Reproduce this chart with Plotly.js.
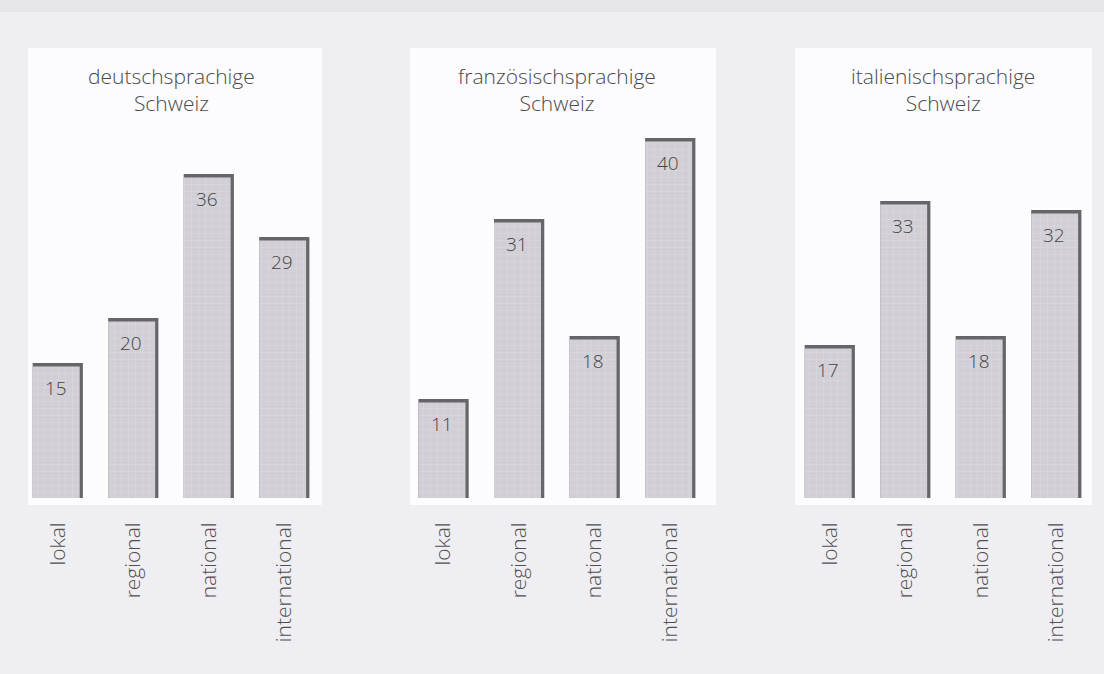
<!DOCTYPE html>
<html>
<head>
<meta charset="utf-8">
<script src="https://cdn.plot.ly/plotly-3.0.1.min.js"></script>
<style>html,body{margin:0;padding:0;background:#efeef2;}#chart{width:1104px;height:674px;}</style>
</head>
<body>
<div id="chart"></div>
<script>
// Data
const categories = ["lokal", "regional", "national", "international"];
const panelTitles = ["deutschsprachige<br>Schweiz", "französischsprachige<br>Schweiz", "italienischsprachige<br>Schweiz"];
const valuesDeutsch = [15, 20, 36, 29];
const valuesFranz = [11, 31, 18, 40];
const valuesItal = [17, 33, 18, 32];
const panelValues = [valuesDeutsch, valuesFranz, valuesItal];

const W = 1104, H = 674;
const marginT = 20, marginB = 176;
const plotH = H - marginT - marginB;
const yMax = plotH / 9.0;
const domainsPx = [[20, 322], [405.75, 708], [792, 1094]];
const panelBgPx = [[28, 322], [410, 716], [795, 1092]];

const fontFam = "'Open Sans', 'Noto Sans', sans-serif";
const traces = [];
const annotations = [];
const shapes = [];
const layout = {
  width: W, height: H,
  margin: {l: 0, r: 0, t: marginT, b: marginB},
  paper_bgcolor: "#efeef2",
  plot_bgcolor: "rgba(0,0,0,0)",
  barmode: "overlay",
  showlegend: false,
  font: {family: fontFam, color: "#4a4a4a"}
};

panelValues.forEach((vals, i) => {
  const xa = i === 0 ? "x" : "x" + (i + 1);
  const ya = i === 0 ? "y" : "y" + (i + 1);
  const xk = i === 0 ? "xaxis" : "xaxis" + (i + 1);
  const yk = i === 0 ? "yaxis" : "yaxis" + (i + 1);
  // dark edge bar
  traces.push({
    type: "bar", x: categories, y: vals, xaxis: xa, yaxis: ya,
    width: 0.665, offset: -0.332,
    marker: {color: "#666569", line: {width: 0}},
    hoverinfo: "skip"
  });
  // light face bar
  traces.push({
    type: "bar", x: categories, y: vals.map(v => v - 0.38), xaxis: xa, yaxis: ya,
    width: 0.622, offset: -0.332,
    marker: {color: "#d3d1d7", line: {width: 0},
      pattern: {shape: "+", fgcolor: "#dcdae0", bgcolor: "#d1cfd5", size: 7, solidity: 0.15}},
    hoverinfo: "skip"
  });
  layout[xk] = {
    domain: [domainsPx[i][0] / W, domainsPx[i][1] / W],
    anchor: ya,
    type: "category",
    range: [-0.5, 3.5],
    tickangle: -90,
    ticks: "outside", ticklen: 15, tickcolor: "rgba(0,0,0,0)",
    showline: false, showgrid: false, zeroline: false,
    tickfont: {family: fontFam, size: 21, color: "#505050", weight: 300}
  };
  layout[yk] = {
    domain: [0, 1], anchor: xa, range: [0, yMax],
    visible: false, showgrid: false, zeroline: false
  };
  vals.forEach((v, j) => {
    annotations.push({
      xref: xa, yref: ya, x: categories[j], y: v, yanchor: "top", xanchor: "center",
      xshift: -2, yshift: -10,
      text: String(v), showarrow: false,
      font: {family: fontFam, size: 19, color: "#444", weight: 300}
    });
  });
  annotations.push({
    xref: "paper", yref: "paper",
    x: (domainsPx[i][0] + domainsPx[i][1]) / 2 / W,
    y: 1 - (60 - marginT) / plotH, yanchor: "top", xanchor: "center",
    text: panelTitles[i], showarrow: false, align: "center",
    font: {family: fontFam, size: 21, color: "#4a4a4a", weight: 300}
  });
  shapes.push({
    type: "rect", xref: "paper", yref: "paper", layer: "below",
    x0: panelBgPx[i][0] / W, x1: panelBgPx[i][1] / W,
    y0: 1 - (505 - marginT) / plotH, y1: 1 - (48 - marginT) / plotH,
    fillcolor: "#fcfbfd", line: {width: 0}
  });
});

// top band
shapes.push({
  type: "rect", xref: "paper", yref: "paper", layer: "below",
  x0: 0, x1: 1, y0: 1 + (marginT - 12) / plotH, y1: 1 + marginT / plotH,
  fillcolor: "#e6e5e9", line: {width: 0}
});

layout.annotations = annotations;
layout.shapes = shapes;

Plotly.newPlot("chart", traces, layout, {displayModeBar: false, staticPlot: true});
</script>
</body>
</html>
